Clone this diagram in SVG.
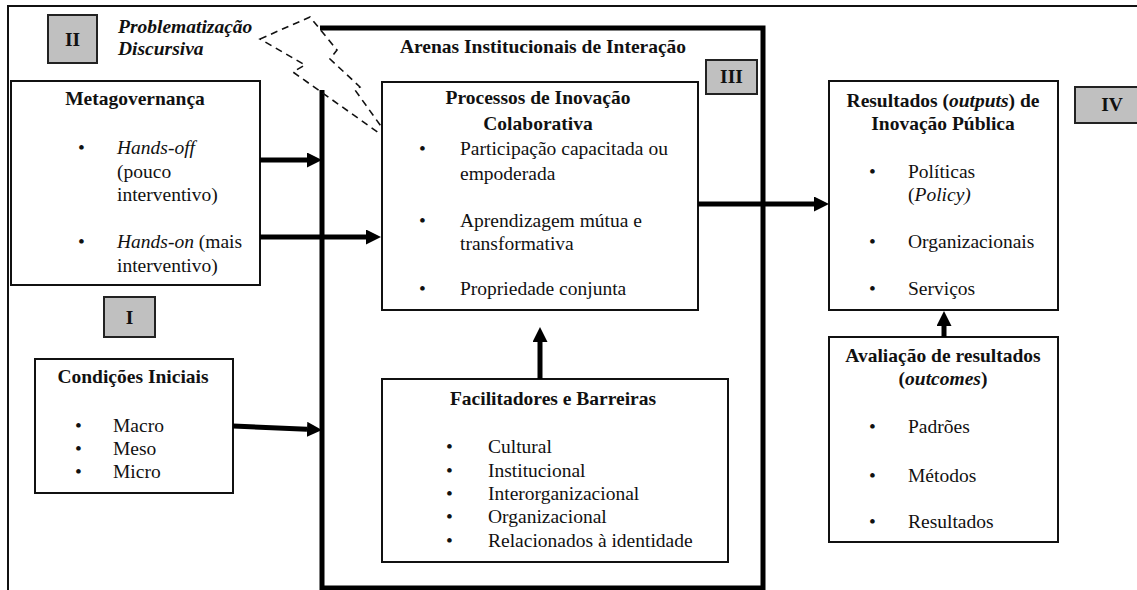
<svg xmlns="http://www.w3.org/2000/svg" width="1137" height="590" viewBox="0 0 1137 590">
  <defs>
    <style>
      text { font-family: "Liberation Serif", "Times New Roman", serif; fill: #111; font-size: 19.5px; }
      .b { font-weight: bold; }
      .bi { font-weight: bold; font-style: italic; }
      .i { font-style: italic; }
      .c { text-anchor: middle; }
      .box { fill: #fff; stroke: #111; stroke-width: 2; }
      .tag { fill: #c0c0c0; stroke: #222; stroke-width: 2; }
      .frame { fill: none; stroke: #111; stroke-width: 2; }
      .arena { fill: none; stroke: #000; stroke-width: 5; }
      .arrow { stroke: #000; stroke-width: 5; fill: none; marker-end: url(#ah); }
      .bolt { fill: none; stroke: #111; stroke-width: 1.6; stroke-dasharray: 7 5; }
    </style>
    <marker id="ah" markerUnits="userSpaceOnUse" markerWidth="16" markerHeight="16" refX="0" refY="7.5" orient="auto">
      <path d="M0,0 L15,7.5 L0,15 z" fill="#000"/>
    </marker>
  </defs>

  <!-- outer frame (top and left edges) -->
  <path class="frame" d="M8,590 L8,6 L1137,6"/>

  <!-- institutional arena: thick border, broken on the left by the bolt -->
  <g id="arena">
    <path class="arena" d="M322,90 L322,588 L763,588 L763,28 L320,28"/>
    <text class="b c" x="543" y="53">Arenas Institucionais de Interação</text>
  </g>

  <!-- discursive problematisation bolt -->
  <g id="bolt">
    <path class="bolt" d="M260,39 L310,17 L337,50 L330,59 L360,87 L355,90 L393,143 L293,72 L305,65 Z"/>
  </g>

  <!-- section tags -->
  <g id="tag-II">
    <rect class="tag" x="48" y="15" width="49" height="48"/>
    <text class="b c" x="72.5" y="46">II</text>
    <text class="bi" x="118" y="33">Problematização</text>
    <text class="bi" x="118" y="55">Discursiva</text>
  </g>
  <g id="tag-I">
    <rect class="tag" x="104" y="297" width="51" height="40"/>
    <text class="b c" x="129.5" y="324">I</text>
  </g>
  <g id="tag-III">
    <rect class="tag" x="706" y="60" width="51" height="34"/>
    <text class="b c" x="731.5" y="83">III</text>
  </g>
  <g id="tag-IV">
    <rect class="tag" x="1075" y="87" width="80" height="36"/>
    <text class="b c" x="1112" y="111">IV</text>
  </g>

  <!-- metagovernance -->
  <g id="metagovernanca">
    <rect class="box" x="11" y="81" width="249" height="204"/>
    <text class="b c" x="135" y="105">Metagovernança</text>
    <text x="78" y="154">•</text>
    <text x="117" y="154"><tspan class="i">Hands-off</tspan></text>
    <text x="117" y="178">(pouco</text>
    <text x="117" y="201">interventivo)</text>
    <text x="78" y="248">•</text>
    <text x="117" y="248"><tspan class="i">Hands-on</tspan> (mais</text>
    <text x="117" y="272">interventivo)</text>
  </g>

  <!-- initial conditions -->
  <g id="condicoes">
    <rect class="box" x="35" y="359" width="198" height="134"/>
    <text class="b c" x="133" y="383">Condições Iniciais</text>
    <text x="75" y="432">•</text>
    <text x="113" y="432">Macro</text>
    <text x="75" y="455">•</text>
    <text x="113" y="455">Meso</text>
    <text x="75" y="478">•</text>
    <text x="113" y="478">Micro</text>
  </g>

  <!-- collaborative innovation processes -->
  <g id="processos">
    <rect class="box" x="382" y="82" width="316" height="228"/>
    <text class="b c" x="538" y="104">Processos de Inovação</text>
    <text class="b c" x="538" y="130">Colaborativa</text>
    <text x="419" y="155">•</text>
    <text x="460" y="155">Participação capacitada ou</text>
    <text x="460" y="180">empoderada</text>
    <text x="419" y="227">•</text>
    <text x="460" y="227">Aprendizagem mútua e</text>
    <text x="460" y="250">transformativa</text>
    <text x="419" y="295">•</text>
    <text x="460" y="295">Propriedade conjunta</text>
  </g>

  <!-- enablers and barriers -->
  <g id="facilitadores">
    <rect class="box" x="382" y="379" width="346" height="183"/>
    <text class="b c" x="553" y="405">Facilitadores e Barreiras</text>
    <text x="446" y="453">•</text>
    <text x="488" y="453">Cultural</text>
    <text x="446" y="477">•</text>
    <text x="488" y="477">Institucional</text>
    <text x="446" y="500">•</text>
    <text x="488" y="500">Interorganizacional</text>
    <text x="446" y="523">•</text>
    <text x="488" y="523">Organizacional</text>
    <text x="446" y="547">•</text>
    <text x="488" y="547">Relacionados à identidade</text>
  </g>

  <!-- public innovation outputs -->
  <g id="resultados">
    <rect class="box" x="829" y="81" width="229" height="229"/>
    <text class="b c" x="943" y="107">Resultados (<tspan class="bi">outputs</tspan>) de</text>
    <text class="b c" x="943" y="130">Inovação Pública</text>
    <text x="869" y="178">•</text>
    <text x="908" y="178">Políticas</text>
    <text x="908" y="201">(<tspan class="i">Policy)</tspan></text>
    <text x="869" y="248">•</text>
    <text x="908" y="248">Organizacionais</text>
    <text x="869" y="295">•</text>
    <text x="908" y="295">Serviços</text>
  </g>

  <!-- outcome evaluation -->
  <g id="avaliacao">
    <rect class="box" x="829" y="337" width="229" height="205"/>
    <text class="b c" x="943" y="362">Avaliação de resultados</text>
    <text class="b c" x="943" y="385">(<tspan class="bi">outcomes</tspan>)</text>
    <text x="869" y="433">•</text>
    <text x="908" y="433">Padrões</text>
    <text x="869" y="482">•</text>
    <text x="908" y="482">Métodos</text>
    <text x="869" y="528">•</text>
    <text x="908" y="528">Resultados</text>
  </g>

  <!-- connectors -->
  <g id="connectors">
    <line class="arrow" x1="260" y1="160" x2="307" y2="160"/>
    <line class="arrow" x1="260" y1="237" x2="366" y2="237"/>
    <line class="arrow" x1="233" y1="426" x2="307" y2="429.3"/>
    <line class="arrow" x1="698" y1="204" x2="814" y2="204"/>
    <line class="arrow" x1="540" y1="379" x2="540" y2="342"/>
    <line class="arrow" x1="944" y1="337" x2="944" y2="326"/>
  </g>
</svg>
